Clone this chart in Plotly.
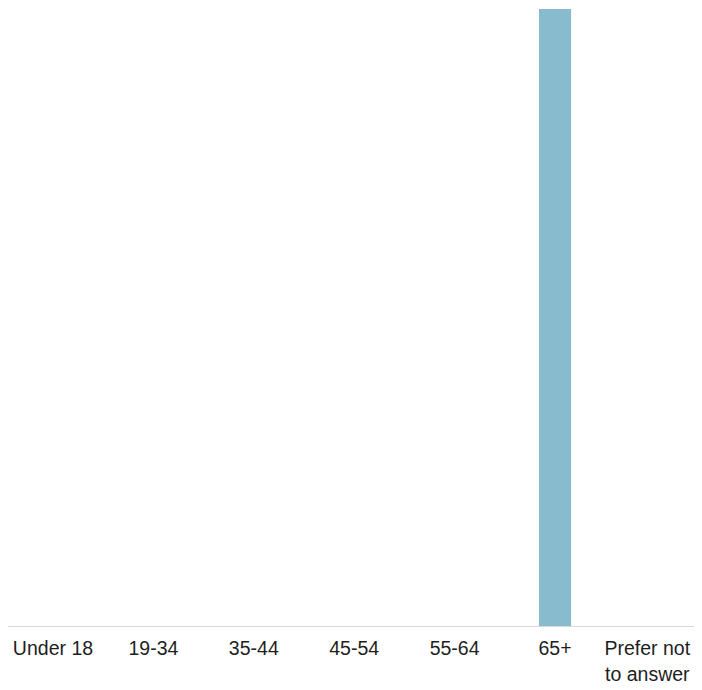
import plotly.graph_objects as go

categories = ["Under 18", "19-34", "35-44", "45-54", "55-64", "65+", "Prefer not to answer"]
tick_labels = ["Under 18", "19-34", "35-44", "45-54", "55-64", "65+",
               "Prefer not\u00a0\u00a0\u00a0<br>to answer\u00a0\u00a0\u00a0"]
values = [0, 0, 0, 0, 0, 100, 0]

fig = go.Figure(go.Bar(
    x=categories, y=values,
    marker=dict(color="#89bbcf", line=dict(width=0)),
    width=0.32,
    hoverinfo="x+y",
))

fig.update_layout(
    width=686, height=674,
    margin=dict(l=0, r=0, t=1, b=56),
    paper_bgcolor="white", plot_bgcolor="white",
    showlegend=False,
    font=dict(family="Liberation Sans, Arial, sans-serif", size=19.5, color="#1e1e1e"),
    xaxis=dict(
        type="category",
        range=[-0.448, 6.384],
        automargin=False,
        tickmode="array", tickvals=categories, ticktext=tick_labels,
        showgrid=False, zeroline=False,
        showline=True, linecolor="#d9d9d9", linewidth=1,
        ticks="", ticklabelstandoff=5,
        tickfont=dict(size=19.5, color="#1e1e1e"),
    ),
    yaxis=dict(
        range=[0, 100],
        automargin=False,
        showgrid=False, zeroline=False, showline=False,
        showticklabels=False, ticks="",
    ),
)

fig.write_html("out.html")
